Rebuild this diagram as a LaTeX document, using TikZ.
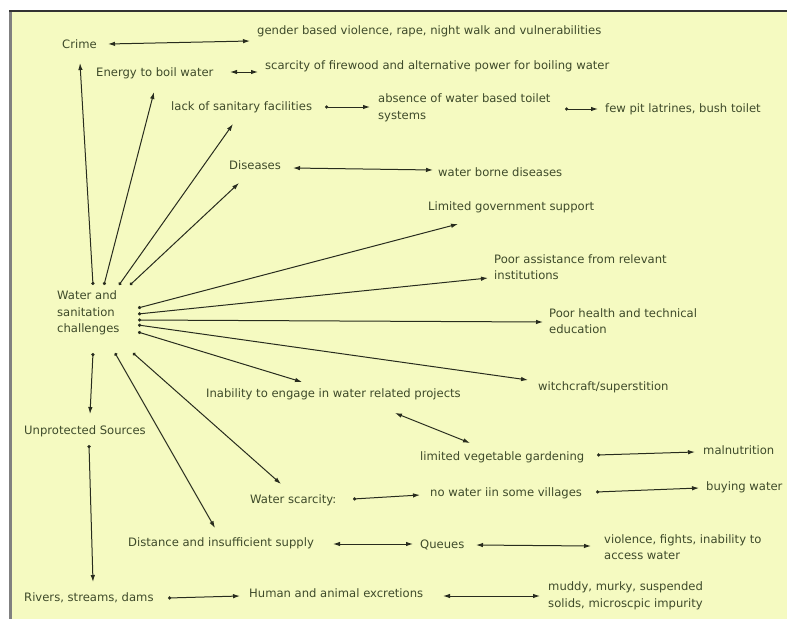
\documentclass[tikz,border=0pt]{standalone}
\usepackage{fontspec}
\setmainfont{DejaVu Sans}
\usetikzlibrary{arrows.meta}
\definecolor{bg}{RGB}{245,250,193}
\definecolor{txt}{RGB}{62,74,42}
\definecolor{ln}{RGB}{40,44,30}
\begin{document}
\begin{tikzpicture}[x=1pt,y=-1pt,
 lbl/.style={anchor=west,inner sep=0pt,text=txt,font=\fontsize{11.6}{16.5}\selectfont,align=left},
 con/.style={draw=ln,line width=1pt},
 one/.style={con,{Circle[length=3.2pt]}-{Latex[length=7pt,width=4.5pt]}},
 two/.style={con,{Latex[length=7pt,width=4.5pt]}-{Latex[length=7pt,width=4.5pt]}}]
\useasboundingbox (0,0) rectangle (787,621);
\fill[white] (0,0) rectangle (787,621);
\fill[bg] (9,11) rectangle (787,619);
\draw[gray,line width=3pt] (10,11) -- (10,619);
\draw[black!80,line width=1.5pt] (9,11) -- (787,11);
% nodes
\node[lbl] (crime) at (62,44) {Crime};
\node[lbl] (gbv) at (257,31) {gender based violence, rape, night walk and vulnerabilities};
\node[lbl] (energy) at (96,73) {Energy to boil water};
\node[lbl] (firewood) at (265,66) {scarcity of firewood and alternative power for boiling water};
\node[lbl] (sanit) at (171,107) {lack of sanitary facilities};
\node[lbl] (absence) at (378,108) {absence of water based toilet\\systems};
\node[lbl] (pit) at (605,109) {few pit latrines, bush toilet};
\node[lbl] (dis) at (229,165) {Diseases};
\node[lbl] (wbd) at (438,172) {water borne diseases};
\node[lbl] (gov) at (428,207) {Limited government support};
\node[lbl] (assist) at (494,267) {Poor assistance from relevant\\institutions};
\node[lbl] (health) at (549,321) {Poor health and technical\\education};
\node[lbl] (witch) at (538,387) {witchcraft/superstition};
\node[lbl] (ws) at (57,313) {Water and\\sanitation\\challenges};
\node[lbl] (inab) at (206,394) {Inability to engage in water related projects};
\node[lbl] (veg) at (420,457) {limited vegetable gardening};
\node[lbl] (mal) at (703,450) {malnutrition};
\node[lbl] (unprot) at (24,431) {Unprotected Sources};
\node[lbl] (scar) at (250,500) {Water scarcity:};
\node[lbl] (nowater) at (430,493) {no water iin some villages};
\node[lbl] (buy) at (706,487) {buying water};
\node[lbl] (dist) at (128,543) {Distance and insufficient supply};
\node[lbl] (queue) at (420,545) {Queues};
\node[lbl] (viol) at (604,547) {violence, fights, inability to\\access water};
\node[lbl] (rivers) at (24,598) {Rivers, streams, dams};
\node[lbl] (excr) at (249,593) {Human and animal excretions};
\node[lbl] (muddy) at (548,596) {muddy, murky, suspended\\solids, microscpic impurity};
% connector end points
\coordinate (t1) at (93,285); \coordinate (t2) at (104,285);
\coordinate (t3) at (119,285); \coordinate (t4) at (130,285);
\coordinate (r1) at (138,308); \coordinate (r2) at (138,314);
\coordinate (r3) at (138,320); \coordinate (r4) at (138,325);
\coordinate (r5) at (138,332);
\coordinate (b1) at (93,353); \coordinate (b2) at (115,353); \coordinate (b3) at (133,353);
\coordinate (crimeIn) at (80,63); \coordinate (energyIn) at (154,92);
\coordinate (sanitIn) at (233,124); \coordinate (disIn) at (239,183);
\coordinate (govIn) at (458,224); \coordinate (assistIn) at (488,278);
\coordinate (healthIn) at (543,322); \coordinate (witchIn) at (528,380);
\coordinate (inabIn) at (302,382); \coordinate (unprotIn) at (90,414);
\coordinate (distIn) at (215,528); \coordinate (scarIn) at (281,484);
% radial connectors
\draw[one] (t1) -- (crimeIn);
\draw[one] (t2) -- (energyIn);
\draw[one] (t3) -- (sanitIn);
\draw[one] (t4) -- (disIn);
\draw[one] (r1) -- (govIn);
\draw[one] (r2) -- (assistIn);
\draw[one] (r3) -- (healthIn);
\draw[one] (r4) -- (witchIn);
\draw[one] (r5) -- (inabIn);
\draw[one] (b1) -- (unprotIn);
\draw[one] (b2) -- (distIn);
\draw[one] (b3) -- (scarIn);
% side connectors
\draw[two] (108,44) -- (250,41);
\draw[two] (230,72) -- (258,72);
\draw[one] (325,107) -- (370,107);
\draw[one] (565,109) -- (598,109);
\draw[two] (293,168) -- (433,170);
\draw[one] (89,445) -- (93,582);
\draw[one] (168,598) -- (240,596);
\draw[two] (395,413) -- (470,443);
\draw[one] (597,455) -- (695,452);
\draw[one] (353,499) -- (420,495);
\draw[one] (596,492) -- (699,488);
\draw[two] (333,544) -- (413,544);
\draw[two] (476,545) -- (591,546);
\draw[two] (443,596) -- (540,596);
\end{tikzpicture}
\end{document}
